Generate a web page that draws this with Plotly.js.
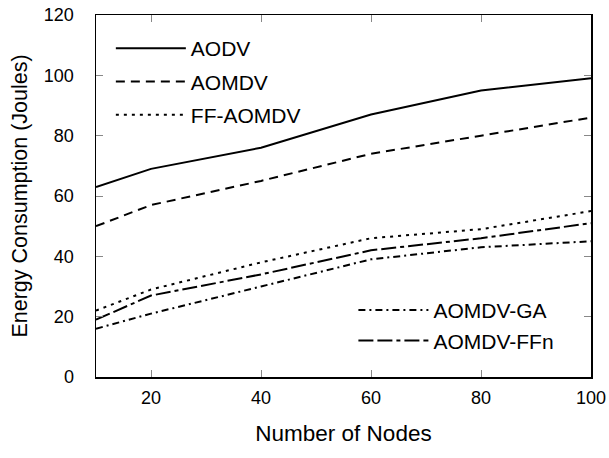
<!DOCTYPE html>
<html><head><meta charset="utf-8">
<script src="https://cdn.plot.ly/plotly-3.0.1.min.js"></script>
<style>html,body{margin:0;padding:0;background:#fff}#c{width:609px;height:458px}</style>
</head><body><div id="c"></div>
<script>
const nodes = [10, 20, 40, 60, 80, 100];
const aodv = [63, 69, 76, 87, 95, 99];
const aomdv = [50, 57, 65, 74, 80, 86];
const ffAomdv = [22, 29, 38, 46, 49, 55];
const aomdvGA = [16, 21, 30, 39, 43, 45];
const aomdvFFn = [19, 27, 34, 42, 46, 51];
const names = ['AODV', 'AOMDV', 'FF-AOMDV', 'AOMDV-GA', 'AOMDV-FFn'];
const xTicks = [20, 40, 60, 80, 100];
const yTicks = [0, 20, 40, 60, 80, 100, 120];

const series = [aodv, aomdv, ffAomdv, aomdvGA, aomdvFFn];
const dashes = ['solid', '9px,6px', '3px,5px', '7px,4px,2px,4px', '15px,4px,15px,4px,4px,4px'];
const legends = ['legend', 'legend', 'legend', 'legend2', 'legend2'];
const traces = series.map((s, i) => ({
  x: nodes, y: s, name: names[i], type: 'scatter', mode: 'lines',
  line: {color: '#000', width: 2, dash: dashes[i]},
  legend: legends[i], legendgroup: 'g' + i
}));

const fam = "'Liberation Sans', Arial, sans-serif";
const f = (size) => ({family: fam, size: size, color: '#000'});
const layout = {
  width: 609, height: 458,
  margin: {l: 96, r: 18, t: 15, b: 81},
  paper_bgcolor: '#fff', plot_bgcolor: '#fff',
  font: f(18),
  xaxis: {
    range: [10, 100], tickvals: xTicks,
    ticks: 'inside', ticklen: 7, tickcolor: '#888', tickwidth: 1,
    showline: true, linecolor: '#000', linewidth: 1.5, mirror: 'allticks',
    showgrid: false, zeroline: false, ticklabelstandoff: 4,
    tickfont: f(18),
    title: {text: 'Number of Nodes', font: f(22.5), standoff: 18}
  },
  yaxis: {
    range: [0, 120], tickvals: yTicks,
    ticks: 'inside', ticklen: 7, tickcolor: '#888', tickwidth: 1,
    showline: true, linecolor: '#000', linewidth: 1.5, mirror: 'allticks',
    showgrid: false, zeroline: false, ticklabelstandoff: 17,
    tickfont: f(18),
    title: {text: 'Energy Consumption (Joules)', font: f(21.5), standoff: 10}
  },
  legend: {
    x: 0.03, y: 0.964, xanchor: 'left', yanchor: 'top',
    bgcolor: 'rgba(0,0,0,0)', itemwidth: 70, tracegroupgap: 3,
    font: f(21), itemclick: false
  },
  legend2: {
    x: 0.52, y: 0.2405, xanchor: 'left', yanchor: 'top',
    bgcolor: 'rgba(0,0,0,0)', itemwidth: 70, tracegroupgap: 0,
    font: f(21), itemclick: false
  },
  showlegend: true
};
Plotly.newPlot('c', traces, layout, {displayModeBar: false, staticPlot: true});
</script></body></html>
